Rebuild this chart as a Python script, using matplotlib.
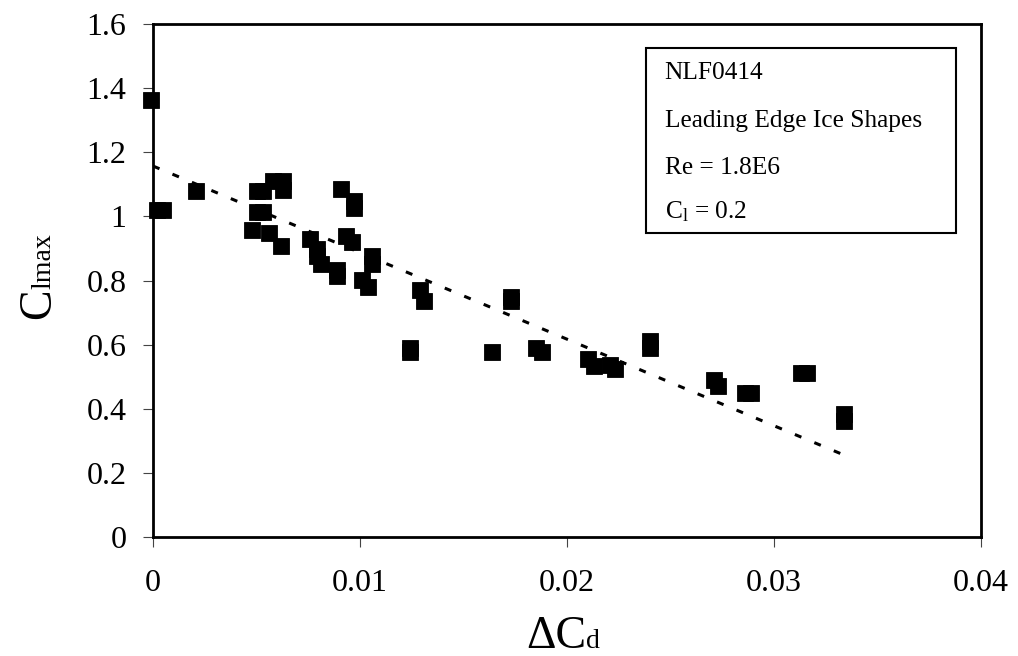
import numpy as np
import matplotlib
matplotlib.use("Agg")
import matplotlib.pyplot as plt
from matplotlib.patches import Rectangle

plt.rcParams['font.family'] = ['Liberation Serif', 'DejaVu Serif']
plt.rcParams['mathtext.fontset'] = 'custom'
plt.rcParams['mathtext.rm'] = 'Liberation Serif'
plt.rcParams['mathtext.it'] = 'Liberation Serif:italic'

# Data (delta Cd, Clmax)
delta_cd = [-0.0001, 0.0002, 0.0005, 0.0021,
            0.0050, 0.0053, 0.0058, 0.0063, 0.0063,
            0.0050, 0.0053, 0.0048, 0.0056, 0.0062,
            0.0091, 0.0097, 0.0097, 0.0093, 0.0096,
            0.0076, 0.0079, 0.0079, 0.0081, 0.0089, 0.0089,
            0.0101, 0.0104, 0.0106, 0.0106, 0.0129, 0.0131,
            0.0124, 0.0124, 0.0164, 0.0173, 0.0173,
            0.0185, 0.0188, 0.0210, 0.0213, 0.0221, 0.0223,
            0.0240, 0.0240, 0.0271, 0.0273, 0.0286, 0.0289,
            0.0313, 0.0316, 0.0334, 0.0334]
cl_max = [1.363, 1.020, 1.020, 1.079,
          1.079, 1.079, 1.110, 1.110, 1.082,
          1.015, 1.015, 0.958, 0.948, 0.908,
          1.085, 1.047, 1.025, 0.939, 0.919,
          0.929, 0.898, 0.876, 0.853, 0.834, 0.813,
          0.802, 0.781, 0.876, 0.853, 0.770, 0.737,
          0.588, 0.578, 0.578, 0.748, 0.737,
          0.588, 0.578, 0.556, 0.534, 0.535, 0.525,
          0.610, 0.588, 0.491, 0.470, 0.449, 0.449,
          0.513, 0.513, 0.384, 0.363]

# Linear trend line
trend_intercept = 1.157
trend_slope = -27.0
trend_x = [0.0, 0.0334]

x_ticks = [0, 0.01, 0.02, 0.03, 0.04]
x_ticklabels = ['0', '0.01', '0.02', '0.03', '0.04']
y_ticks = [0, 0.2, 0.4, 0.6, 0.8, 1.0, 1.2, 1.4, 1.6]
y_ticklabels = ['0', '0.2', '0.4', '0.6', '0.8', '1', '1.2', '1.4', '1.6']

info_lines = ['NLF0414', 'Leading Edge Ice Shapes', 'Re = 1.8E6',
              r'C$_\mathregular{l}$ = 0.2']

W, H = 1018, 656
fig = plt.figure(figsize=(W / 100, H / 100), dpi=100)
ax = fig.add_axes([153 / W, 1 - 537 / H, 828 / W, 513 / H])

tx = np.array(trend_x)
ax.plot(tx, trend_intercept + trend_slope * tx, color='black', lw=2.2,
        dashes=(2.3, 4.6), zorder=2)
ax.plot(delta_cd, cl_max, linestyle='none', marker='s', markersize=11.5,
        markerfacecolor='black', markeredgecolor='black', markeredgewidth=0.6,
        clip_on=False, zorder=3)

ax.set_xlim(0, 0.04)
ax.set_ylim(0, 1.6)
ax.set_xticks(x_ticks)
ax.set_xticklabels(x_ticklabels)
ax.set_yticks(y_ticks)
ax.set_yticklabels(y_ticklabels)
ax.tick_params(axis='both', direction='out', length=7.2, width=0.8,
               labelsize=23, color='#444444')
ax.tick_params(axis='x', pad=16)
ax.tick_params(axis='y', pad=12)
for s in ax.spines.values():
    s.set_linewidth(2.0)

# info box
ax.add_patch(Rectangle((0.596, 0.593), 0.374, 0.361, transform=ax.transAxes,
                       fill=False, edgecolor='black', lw=1.5, zorder=4))
for yy, line in zip([0.904, 0.810, 0.719, 0.634], info_lines):
    ax.text(0.618, yy, line, transform=ax.transAxes, fontsize=18.3,
            va='center', ha='left', zorder=5)

# axis labels with mixed font sizes
fig.canvas.draw()
r = fig.canvas.get_renderer()

def width_of(s, size):
    t = fig.text(0, 0, s, fontsize=size)
    w = t.get_window_extent(r).width
    t.remove()
    return w

big, small = 33, 20
# x label: "ΔC" big + "d" small, centred at ~562 px, baseline at 648 px
w1 = width_of('\u0394C', big)
w2 = width_of('d', small)
x0 = 563 - (w1 + w2) / 2
yb = (H - 648) / H
fig.text(x0 / W, yb, '\u0394C', fontsize=big, ha='left', va='baseline')
fig.text((x0 + w1) / W, yb, 'd', fontsize=small, ha='left', va='baseline')

# y label: "C" big + "lmax" small, rotated, baseline at x=50 px
w1 = width_of('C', big)
w2 = width_of('lmax', small)
ystart = 276 + (w1 + w2) / 2  # pixel from top (bottom of text)
xb = 50 / W
fig.text(xb, 1 - ystart / H, 'C', fontsize=big, rotation=90,
         rotation_mode='anchor', ha='left', va='baseline')
fig.text(xb, 1 - (ystart - w1) / H, 'lmax', fontsize=small, rotation=90,
         rotation_mode='anchor', ha='left', va='baseline')

fig.savefig('out.png', dpi=100)
